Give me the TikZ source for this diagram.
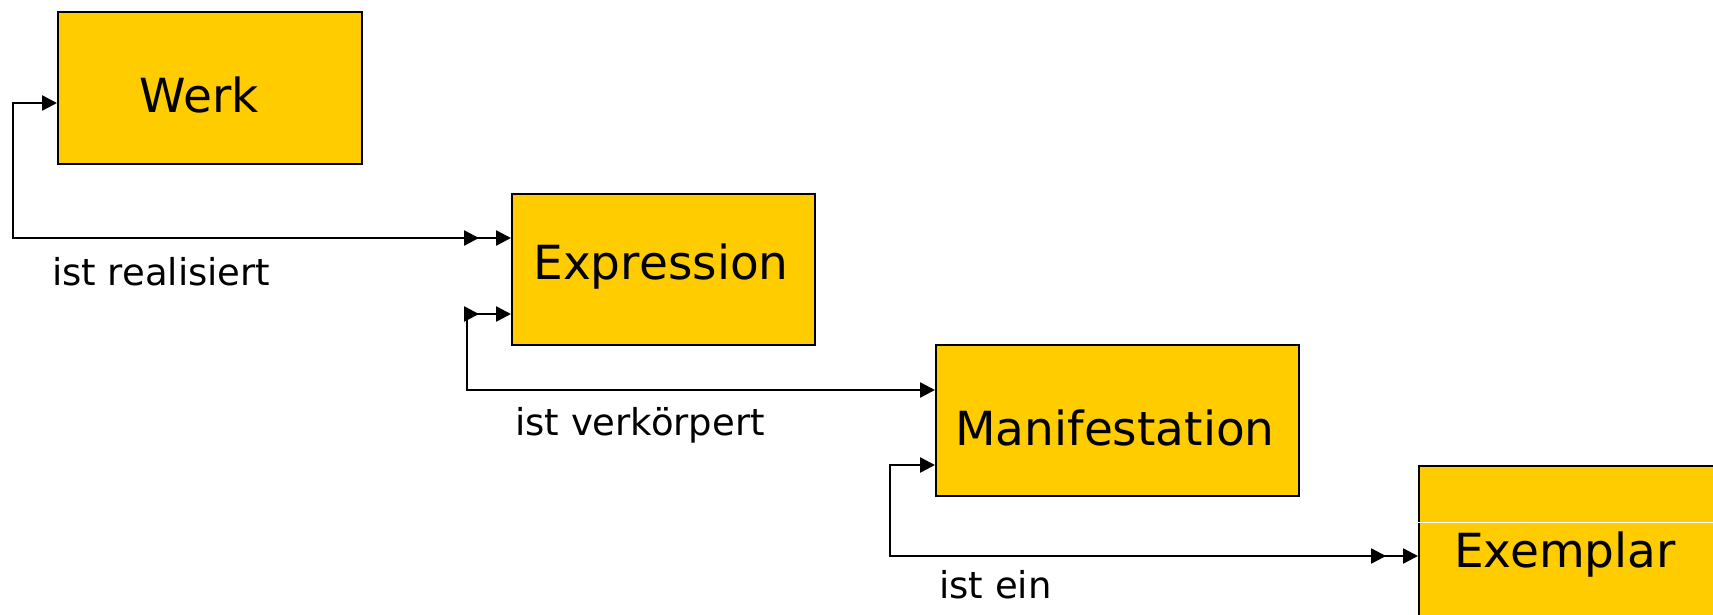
\documentclass[tikz,border=0pt]{standalone}
\usepackage{fontspec}
\setmainfont{DejaVu Sans}
\usetikzlibrary{arrows.meta,decorations.markings}
\definecolor{boxyellow}{RGB}{255,204,0}
\tikzset{
  >={Triangle[length=15pt,width=15pt]},
  fbox/.style={draw=black, line width=1.8pt, fill=boxyellow, rectangle, inner sep=0pt, anchor=north west},
  boxtext/.style={anchor=base, inner sep=0pt, font=\fontsize{47}{56}\selectfont},
  reltext/.style={anchor=base west, inner sep=0pt, font=\fontsize{37}{44}\selectfont},
  conn/.style={line width=2.5pt, black},
  enddouble/.style={postaction={decorate, decoration={markings, mark=at position -32pt with {\arrow{>}}}}},
  startdouble/.style={postaction={decorate, decoration={markings, mark=at position 32pt with {\arrowreversed{>}}}}}
}
\begin{document}
\begin{tikzpicture}[x=1pt, y=-1pt]
\useasboundingbox (0,0) rectangle (1713,614);
\fill[white] (0,0) rectangle (1713,614);
\clip (0,0) rectangle (1713,614);

\node[fbox, minimum width=304pt, minimum height=152pt] (werk) at (57,11) {};
\node[fbox, minimum width=303pt, minimum height=151pt] (expr) at (511,193) {};
\node[fbox, minimum width=363pt, minimum height=151pt] (manif) at (935,344) {};
\node[fbox, minimum width=340pt, minimum height=180pt] (exem) at (1418,465) {};
\draw[white, line width=1pt] ([yshift=-57pt]exem.north west) -- ([yshift=-57pt]exem.north east);

\node[boxtext] (werkt) at (199,112) {Werk};
\node[boxtext] (exprt) at (661,279) {Expression};
\node[boxtext] (manift) at (1115,445) {Manifestation};
\node[boxtext] (exemt) at (1565,567) {Exemplar};

\draw[conn, <->, enddouble] ([yshift=-92pt]werk.north west) -- ++(-44,0) |- ([yshift=-45pt]expr.north west);
\draw[conn, <->, startdouble] ([yshift=-121pt]expr.north west) -- ++(-44,0) |- ([yshift=-46pt]manif.north west);
\draw[conn, <->, enddouble] ([yshift=-121pt]manif.north west) -- ++(-45,0) |- ([yshift=-91pt]exem.north west);

\node[reltext] (l1) at (52,285) {ist realisiert};
\node[reltext] (l2) at (515,435) {ist verkörpert};
\node[reltext] (l3) at (939,598) {ist ein};
\end{tikzpicture}
\end{document}
